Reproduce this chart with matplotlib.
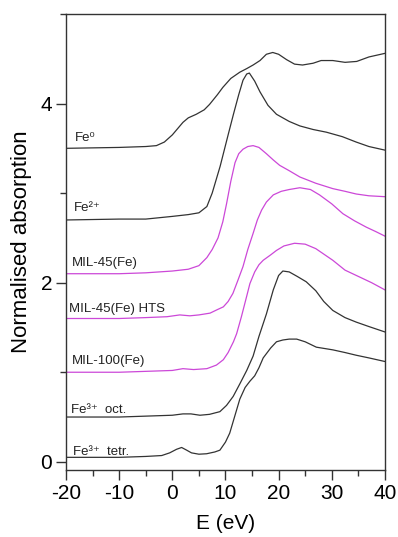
import matplotlib
matplotlib.use("Agg")
import matplotlib.pyplot as plt
from matplotlib.ticker import MultipleLocator

plt.rcParams['font.family'] = ['Liberation Sans', 'DejaVu Sans']
plt.rcParams['axes.unicode_minus'] = False

# spectra (energy in eV, normalised absorption with offsets)
e_fe0 = [-20, -10, -5, -3, -1.5, 0, 1, 2, 3, 4.5, 6, 7, 8.5, 9.5, 11, 12.7, 14, 15.2, 16.5,
         17.7, 18.9, 20, 21.5, 23, 24.5, 26.5, 28, 30.2, 32.5, 34.7, 37, 40]
a_fe0 = [3.50, 3.51, 3.52, 3.53, 3.57, 3.65, 3.72, 3.79, 3.84, 3.88, 3.93, 3.99, 4.10, 4.18, 4.28,
         4.35, 4.39, 4.43, 4.48, 4.55, 4.57, 4.55, 4.49, 4.44, 4.43, 4.45, 4.48, 4.48, 4.46, 4.47,
         4.52, 4.56]

e_fe2 = [-20, -10, -5, 0, 3, 5, 6.5, 7.5, 9, 10.5, 11.5, 12.5, 13.3, 14, 14.5, 15.5, 16.5, 18,
         19.6, 22, 24, 26.5, 29, 32, 34.6, 37, 40]
a_fe2 = [2.70, 2.71, 2.71, 2.74, 2.76, 2.78, 2.85, 3.00, 3.30, 3.65, 3.88, 4.10, 4.26, 4.33, 4.34,
         4.25, 4.13, 3.98, 3.88, 3.80, 3.75, 3.71, 3.68, 3.63, 3.57, 3.52, 3.48]

e_mil45 = [-20, -10, -5, 0, 3, 5, 6.5, 7.5, 8.6, 9.5, 10.2, 11, 11.8, 12.5, 13.3, 14.2, 15.2,
           16.3, 17.7, 19, 20.2, 22, 24, 27, 30.2, 32.5, 34.6, 37, 40]
a_mil45 = [2.10, 2.10, 2.11, 2.13, 2.15, 2.19, 2.28, 2.37, 2.50, 2.68, 2.88, 3.13, 3.34, 3.44,
           3.49, 3.52, 3.53, 3.51, 3.44, 3.37, 3.31, 3.25, 3.18, 3.11, 3.05, 3.02, 2.99, 2.97, 2.96]

e_hts = [-20, -10, -5, -1, 1.4, 3.3, 5, 7.1, 8.5, 9.6, 10.5, 11.4, 12.3, 13.3, 14.2, 15.2, 16,
         16.8, 17.7, 19, 20.5, 22, 24, 26, 27.7, 30, 32.1, 34.3, 36.5, 38.3, 40]
a_hts = [1.60, 1.60, 1.61, 1.62, 1.64, 1.63, 1.64, 1.66, 1.70, 1.73, 1.79, 1.88, 2.02, 2.18, 2.37,
         2.55, 2.70, 2.81, 2.90, 2.98, 3.02, 3.04, 3.06, 3.04, 2.98, 2.88, 2.77, 2.69, 2.62, 2.57,
         2.52]

e_mil100 = [-20, -10, -5, 0, 2, 4, 6.5, 8.3, 9.6, 10.5, 11.5, 12.1, 13, 14, 14.6, 15.5, 16.3,
            17.1, 18.5, 19.6, 21, 23, 25, 27, 30.2, 32.5, 35, 37.5, 40]
a_mil100 = [1.00, 1.00, 1.01, 1.02, 1.04, 1.03, 1.04, 1.08, 1.14, 1.22, 1.34, 1.43, 1.62, 1.85,
            1.99, 2.12, 2.20, 2.25, 2.31, 2.36, 2.41, 2.44, 2.43, 2.38, 2.25, 2.14, 2.07, 2.00, 1.92]

e_oct = [-20, -10, -5, 0, 2, 3.5, 5.2, 7, 8.95, 10.2, 11.45, 12.7, 14, 15.2, 16.3, 17.7, 19, 20,
         20.8, 22, 23.5, 25.2, 27, 28.5, 30.2, 32.5, 34.6, 37, 40]
a_oct = [0.50, 0.50, 0.51, 0.52, 0.535, 0.535, 0.52, 0.53, 0.56, 0.63, 0.73, 0.87, 1.02, 1.18,
         1.40, 1.65, 1.92, 2.08, 2.13, 2.12, 2.07, 2.01, 1.91, 1.79, 1.69, 1.61, 1.56, 1.51, 1.45]

e_tetr = [-20, -10, -5, -2, -0.5, 0.8, 1.75, 2.7, 3.6, 5, 6.45, 8, 8.95, 10, 10.8, 11.7, 12.7,
          13.7, 14.6, 15.5, 16.3, 17.1, 18.5, 19.6, 20.8, 22, 23.4, 25, 27.1, 30.2, 32.5, 34.6,
          37, 40]
a_tetr = [0.05, 0.05, 0.06, 0.07, 0.10, 0.14, 0.16, 0.13, 0.10, 0.085, 0.09, 0.11, 0.13, 0.22,
          0.32, 0.50, 0.70, 0.83, 0.90, 0.96, 1.05, 1.16, 1.27, 1.34, 1.36, 1.37, 1.37, 1.34, 1.28,
          1.25, 1.22, 1.19, 1.16, 1.12]

labels = ['Fe⁰', 'Fe²⁺', 'MIL-45(Fe)', 'MIL-45(Fe) HTS', 'MIL-100(Fe)',
          'Fe³⁺  oct.', 'Fe³⁺  tetr.']
label_x = [-18.4, -18.6, -18.9, -19.4, -18.9, -19.1, -18.7]
label_y = [3.58, 2.80, 2.19, 1.67, 1.09, 0.54, 0.08]

black = '#333333'
magenta = '#cc48d8'

series = [(e_fe0, a_fe0, black), (e_fe2, a_fe2, black), (e_mil45, a_mil45, magenta),
          (e_hts, a_hts, magenta), (e_mil100, a_mil100, magenta), (e_oct, a_oct, black),
          (e_tetr, a_tetr, black)]

fig = plt.figure(figsize=(3.98, 5.37), dpi=100)
ax = fig.add_axes([0.166, 0.125, 0.801, 0.849])

for e, a, c in series:
    ax.plot(e, a, color=c, lw=0.9)

for t, x, y in zip(labels, label_x, label_y):
    ax.text(x, y, t, fontsize=9.5, va='baseline', ha='left', color='#222222')

ax.set_xlim(-20, 40)
ax.set_ylim(-0.09, 5.0)
ax.xaxis.set_major_locator(MultipleLocator(10))
ax.xaxis.set_minor_locator(MultipleLocator(5))
ax.yaxis.set_major_locator(MultipleLocator(2))
ax.yaxis.set_minor_locator(MultipleLocator(1))
ax.tick_params(which='major', length=7, width=1, labelsize=15, pad=3, color=black)
ax.tick_params(which='minor', length=4, width=1, color=black)
for s in ax.spines.values():
    s.set_color(black)
    s.set_linewidth(1)

ax.set_xlabel('E (eV)', fontsize=15, labelpad=8)
ax.set_ylabel('Normalised absorption', fontsize=16, labelpad=6)

fig.savefig('out.png', dpi=100)
